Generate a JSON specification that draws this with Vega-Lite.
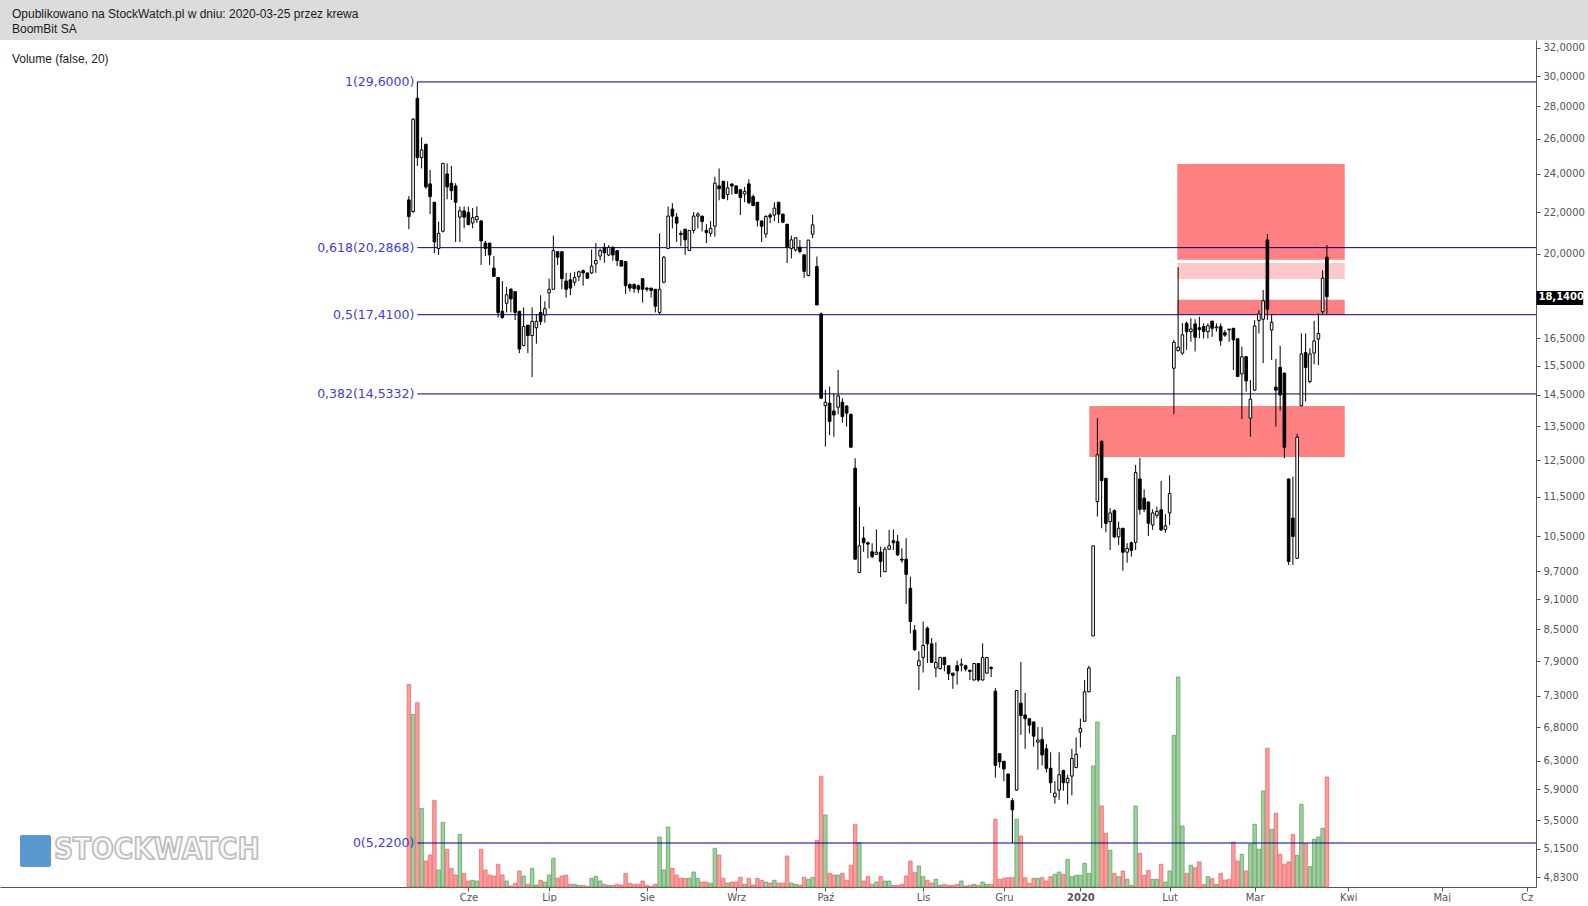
{
"$schema": "https://vega.github.io/schema/vega-lite/v6.json",
"padding": 0,
"background": "white",
"spacing": 0,
"config": {
  "locale": {"number": {"decimal": ",", "thousands": " ", "grouping": [3], "currency": ["", " zł"]}},
  "view": {"stroke": null},
  "font": "DejaVu Sans"
},
"vconcat": [
{
  "width": 1588, "height": 40,
  "view": {"fill": "#dcdcdc", "stroke": null},
  "data": {"values": [{"line": 1, "text": "Opublikowano na StockWatch.pl w dniu: 2020-03-25 przez krewa"}, {"line": 2, "text": "BoomBit SA"}]},
  "mark": {"type": "text", "align": "left", "baseline": "middle", "font": "Liberation Sans", "fontSize": 12, "color": "#1a1a1a"},
  "encoding": {
    "x": {"value": 12},
    "y": {"field": "line", "type": "ordinal", "axis": null, "scale": {"type": "point", "range": [14, 29], "padding": 0}},
    "text": {"field": "text"}
  }
},
{
  "width": 1536, "height": 847,
  "view": {"stroke": null},
  "data": {"values": [
{"i":0,"o":22.62,"h":22.82,"l":21.16,"c":21.78,"v":202.7},
{"i":1,"o":22.03,"h":27.25,"l":21.95,"c":27.19,"v":172.7},
{"i":2,"o":28.52,"h":29.6,"l":24.44,"c":24.91,"v":184.3},
{"i":3,"o":24.91,"h":26.09,"l":24.3,"c":25.35,"v":78.7},
{"i":4,"o":25.68,"h":25.7,"l":23.2,"c":23.3,"v":26},
{"i":5,"o":23.46,"h":24.22,"l":21.9,"c":22.79,"v":32},
{"i":6,"o":22.5,"h":22.5,"l":20.03,"c":20.55,"v":86.7},
{"i":7,"o":20.25,"h":21.53,"l":19.95,"c":20.96,"v":17},
{"i":8,"o":21.06,"h":24.6,"l":21.0,"c":24.59,"v":64.7},
{"i":9,"o":24.0,"h":24.59,"l":22.65,"c":23.3,"v":37.7},
{"i":10,"o":23.5,"h":24.44,"l":22.62,"c":23.1,"v":18.7},
{"i":11,"o":23.35,"h":23.5,"l":20.55,"c":22.5,"v":12},
{"i":12,"o":21.75,"h":22.28,"l":20.55,"c":22.06,"v":52.7},
{"i":13,"o":22.06,"h":22.28,"l":21.2,"c":21.75,"v":13.7},
{"i":14,"o":21.98,"h":22.28,"l":21.35,"c":21.38,"v":6},
{"i":15,"o":21.46,"h":22.2,"l":21.2,"c":21.72,"v":6.7},
{"i":16,"o":21.62,"h":22.28,"l":21.46,"c":21.78,"v":6},
{"i":17,"o":21.56,"h":21.6,"l":19.5,"c":20.6,"v":37.7},
{"i":18,"o":20.5,"h":20.6,"l":19.9,"c":20.25,"v":17},
{"i":19,"o":20.5,"h":20.5,"l":19.5,"c":19.95,"v":12},
{"i":20,"o":19.36,"h":19.9,"l":19.0,"c":19.0,"v":11},
{"i":21,"o":18.95,"h":18.95,"l":17.3,"c":17.5,"v":22.7},
{"i":22,"o":17.55,"h":18.8,"l":17.25,"c":17.3,"v":12},
{"i":23,"o":17.87,"h":18.55,"l":17.5,"c":18.22,"v":6},
{"i":24,"o":18.45,"h":18.5,"l":17.5,"c":18.05,"v":1},
{"i":25,"o":18.35,"h":18.35,"l":17.2,"c":17.5,"v":3.7},
{"i":26,"o":17.55,"h":17.55,"l":15.95,"c":16.1,"v":16},
{"i":27,"o":16.23,"h":17.7,"l":16.2,"c":16.95,"v":11},
{"i":28,"o":17.0,"h":17.0,"l":15.95,"c":16.6,"v":2.7},
{"i":29,"o":16.6,"h":17.7,"l":15.1,"c":17.15,"v":18.7},
{"i":30,"o":16.9,"h":17.4,"l":16.3,"c":17.15,"v":2},
{"i":31,"o":17.5,"h":18.2,"l":17.0,"c":17.15,"v":6.7},
{"i":32,"o":17.4,"h":17.95,"l":17.1,"c":17.65,"v":5},
{"i":33,"o":18.3,"h":18.9,"l":17.65,"c":18.45,"v":12},
{"i":34,"o":18.45,"h":20.85,"l":18.45,"c":20.15,"v":28.7},
{"i":35,"o":20.1,"h":20.1,"l":19.5,"c":19.85,"v":8.7},
{"i":36,"o":20.1,"h":20.1,"l":18.45,"c":18.9,"v":11},
{"i":37,"o":18.8,"h":19.15,"l":18.1,"c":18.45,"v":12},
{"i":38,"o":18.85,"h":19.15,"l":18.2,"c":18.5,"v":2.7},
{"i":39,"o":18.75,"h":19.2,"l":18.6,"c":18.95,"v":2.7},
{"i":40,"o":19.0,"h":19.25,"l":18.8,"c":19.2,"v":1.7},
{"i":41,"o":19.25,"h":19.3,"l":18.6,"c":19.15,"v":1.7},
{"i":42,"o":19.15,"h":19.15,"l":18.9,"c":18.92,"v":0.7},
{"i":43,"o":19.15,"h":20.2,"l":19.1,"c":19.45,"v":8.7},
{"i":44,"o":19.55,"h":20.5,"l":19.15,"c":19.7,"v":10.7},
{"i":45,"o":19.9,"h":20.25,"l":19.7,"c":20.15,"v":6},
{"i":46,"o":20.3,"h":20.5,"l":19.6,"c":20.05,"v":2.7},
{"i":47,"o":19.95,"h":20.4,"l":19.9,"c":20.3,"v":1.7},
{"i":48,"o":20.3,"h":20.35,"l":19.7,"c":19.95,"v":1.7},
{"i":49,"o":20.15,"h":20.15,"l":19.45,"c":19.7,"v":2.7},
{"i":50,"o":19.7,"h":19.7,"l":19.45,"c":19.45,"v":2},
{"i":51,"o":19.65,"h":19.65,"l":18.25,"c":18.6,"v":13.7},
{"i":52,"o":18.65,"h":18.7,"l":18.35,"c":18.5,"v":3.7},
{"i":53,"o":18.65,"h":18.7,"l":18.3,"c":18.48,"v":2.7},
{"i":54,"o":18.6,"h":18.65,"l":18.3,"c":18.45,"v":2.7},
{"i":55,"o":18.9,"h":18.9,"l":17.9,"c":18.45,"v":6},
{"i":56,"o":18.5,"h":18.55,"l":18.35,"c":18.45,"v":1.7},
{"i":57,"o":18.5,"h":18.5,"l":18.1,"c":18.4,"v":0.7},
{"i":58,"o":18.45,"h":18.45,"l":17.5,"c":17.75,"v":2.7},
{"i":59,"o":17.5,"h":20.96,"l":17.4,"c":18.45,"v":50},
{"i":60,"o":18.75,"h":19.9,"l":18.7,"c":19.85,"v":17},
{"i":61,"o":20.25,"h":22.28,"l":20.25,"c":21.8,"v":60},
{"i":62,"o":22.15,"h":22.45,"l":21.2,"c":21.8,"v":18.7},
{"i":63,"o":21.75,"h":21.95,"l":20.55,"c":21.45,"v":12},
{"i":64,"o":20.96,"h":21.1,"l":20.35,"c":20.9,"v":8.7},
{"i":65,"o":21.16,"h":21.16,"l":19.95,"c":20.65,"v":8.7},
{"i":66,"o":20.15,"h":21.1,"l":20.15,"c":21.1,"v":8.7},
{"i":67,"o":21.1,"h":22.0,"l":20.96,"c":21.8,"v":15},
{"i":68,"o":21.8,"h":22.0,"l":21.2,"c":21.9,"v":8.7},
{"i":69,"o":21.8,"h":21.8,"l":21.05,"c":21.53,"v":5},
{"i":70,"o":21.1,"h":21.4,"l":20.5,"c":21.0,"v":5},
{"i":71,"o":20.96,"h":21.55,"l":20.8,"c":21.2,"v":3.7},
{"i":72,"o":21.3,"h":23.85,"l":20.8,"c":23.5,"v":38.7},
{"i":73,"o":23.35,"h":24.3,"l":22.6,"c":23.2,"v":32},
{"i":74,"o":23.6,"h":23.6,"l":22.65,"c":22.7,"v":8.7},
{"i":75,"o":22.9,"h":23.6,"l":22.6,"c":23.25,"v":4},
{"i":76,"o":23.45,"h":23.5,"l":22.9,"c":23.35,"v":5},
{"i":77,"o":23.35,"h":23.4,"l":22.96,"c":22.96,"v":5},
{"i":78,"o":23.15,"h":23.15,"l":21.85,"c":22.75,"v":9.7},
{"i":79,"o":22.93,"h":23.3,"l":22.5,"c":23.06,"v":2.7},
{"i":80,"o":23.46,"h":23.7,"l":22.4,"c":22.48,"v":8.7},
{"i":81,"o":22.79,"h":22.9,"l":22.3,"c":22.33,"v":2},
{"i":82,"o":22.5,"h":22.5,"l":21.29,"c":21.6,"v":8.7},
{"i":83,"o":21.56,"h":21.56,"l":20.55,"c":21.3,"v":6.7},
{"i":84,"o":20.93,"h":21.85,"l":20.75,"c":21.78,"v":5},
{"i":85,"o":21.85,"h":21.95,"l":21.45,"c":21.75,"v":4},
{"i":86,"o":21.85,"h":22.5,"l":21.55,"c":22.2,"v":6.7},
{"i":87,"o":22.5,"h":22.5,"l":21.45,"c":21.9,"v":4},
{"i":88,"o":21.9,"h":21.9,"l":21.45,"c":21.5,"v":4},
{"i":89,"o":21.4,"h":21.4,"l":19.58,"c":20.3,"v":31},
{"i":90,"o":20.25,"h":20.85,"l":19.8,"c":20.65,"v":4},
{"i":91,"o":20.18,"h":20.75,"l":20.1,"c":20.75,"v":2.7},
{"i":92,"o":20.31,"h":20.64,"l":20.03,"c":20.11,"v":2},
{"i":93,"o":19.96,"h":19.96,"l":18.93,"c":19.22,"v":9.7},
{"i":94,"o":19.04,"h":20.64,"l":19.0,"c":20.64,"v":7.7},
{"i":95,"o":20.92,"h":21.86,"l":20.73,"c":21.37,"v":9.7},
{"i":96,"o":19.43,"h":19.88,"l":17.8,"c":17.8,"v":46.7},
{"i":97,"o":17.44,"h":17.5,"l":14.39,"c":14.39,"v":110.7},
{"i":98,"o":14.15,"h":14.67,"l":12.89,"c":14.26,"v":72},
{"i":99,"o":14.23,"h":14.78,"l":13.23,"c":13.65,"v":13.7},
{"i":100,"o":13.98,"h":14.56,"l":13.18,"c":13.85,"v":12},
{"i":101,"o":14.1,"h":15.35,"l":13.87,"c":14.47,"v":12},
{"i":102,"o":14.26,"h":14.39,"l":13.61,"c":13.8,"v":13.7},
{"i":103,"o":14.14,"h":14.15,"l":13.49,"c":13.91,"v":6.7},
{"i":104,"o":13.87,"h":13.9,"l":12.87,"c":12.87,"v":21.7},
{"i":105,"o":12.27,"h":12.55,"l":9.97,"c":9.97,"v":62.7},
{"i":106,"o":9.67,"h":11.24,"l":9.66,"c":10.28,"v":44.3},
{"i":107,"o":10.46,"h":10.74,"l":10.14,"c":10.35,"v":6},
{"i":108,"o":10.35,"h":10.38,"l":9.99,"c":10.32,"v":10.3},
{"i":109,"o":10.14,"h":10.34,"l":9.99,"c":10.03,"v":2.7},
{"i":110,"o":10.08,"h":10.67,"l":10.07,"c":10.13,"v":5},
{"i":111,"o":10.13,"h":10.26,"l":9.57,"c":9.92,"v":10.3},
{"i":112,"o":9.69,"h":10.26,"l":9.68,"c":10.2,"v":6},
{"i":113,"o":10.2,"h":10.66,"l":10.18,"c":10.28,"v":6},
{"i":114,"o":10.4,"h":10.67,"l":10.18,"c":10.35,"v":1.7},
{"i":115,"o":10.38,"h":10.54,"l":10.04,"c":10.07,"v":1.7},
{"i":116,"o":9.97,"h":10.22,"l":9.89,"c":9.95,"v":2.7},
{"i":117,"o":9.97,"h":10.46,"l":9.0,"c":9.63,"v":11},
{"i":118,"o":9.33,"h":9.58,"l":8.42,"c":8.65,"v":26},
{"i":119,"o":8.48,"h":8.58,"l":8.09,"c":8.11,"v":14.3},
{"i":120,"o":7.82,"h":8.08,"l":7.4,"c":7.91,"v":21},
{"i":121,"o":7.97,"h":8.65,"l":7.7,"c":8.19,"v":10.3},
{"i":122,"o":8.52,"h":8.55,"l":7.87,"c":8.22,"v":6.7},
{"i":123,"o":8.22,"h":8.33,"l":7.87,"c":7.88,"v":4},
{"i":124,"o":7.78,"h":8.25,"l":7.62,"c":7.88,"v":7.7},
{"i":125,"o":7.77,"h":7.98,"l":7.75,"c":7.97,"v":1.7},
{"i":126,"o":7.97,"h":7.98,"l":7.72,"c":7.84,"v":2.7},
{"i":127,"o":7.82,"h":7.83,"l":7.57,"c":7.68,"v":1.7},
{"i":128,"o":7.69,"h":7.69,"l":7.42,"c":7.65,"v":1.7},
{"i":129,"o":7.82,"h":7.91,"l":7.49,"c":7.73,"v":2.7},
{"i":130,"o":7.83,"h":7.95,"l":7.72,"c":7.85,"v":6},
{"i":131,"o":7.82,"h":7.84,"l":7.72,"c":7.76,"v":1},
{"i":132,"o":7.74,"h":7.75,"l":7.57,"c":7.72,"v":1.7},
{"i":133,"o":7.57,"h":7.87,"l":7.56,"c":7.86,"v":2.7},
{"i":134,"o":7.86,"h":7.87,"l":7.54,"c":7.57,"v":1.7},
{"i":135,"o":7.57,"h":8.23,"l":7.56,"c":7.97,"v":5},
{"i":136,"o":7.69,"h":7.98,"l":7.68,"c":7.97,"v":2.7},
{"i":137,"o":7.79,"h":7.81,"l":7.62,"c":7.77,"v":2.7},
{"i":138,"o":7.38,"h":7.43,"l":6.06,"c":6.23,"v":67.7},
{"i":139,"o":6.4,"h":6.4,"l":6.2,"c":6.28,"v":7.7},
{"i":140,"o":6.29,"h":6.29,"l":6.01,"c":6.18,"v":8.7},
{"i":141,"o":6.11,"h":6.11,"l":5.79,"c":5.79,"v":9.3},
{"i":142,"o":5.75,"h":5.78,"l":5.22,"c":5.63,"v":9.3},
{"i":143,"o":5.89,"h":7.4,"l":5.88,"c":7.39,"v":67.7},
{"i":144,"o":7.18,"h":7.89,"l":6.68,"c":6.98,"v":51},
{"i":145,"o":6.99,"h":7.35,"l":6.47,"c":6.93,"v":9.3},
{"i":146,"o":6.93,"h":6.93,"l":6.7,"c":6.83,"v":3.7},
{"i":147,"o":6.88,"h":6.88,"l":6.5,"c":6.66,"v":8.7},
{"i":148,"o":6.57,"h":6.8,"l":6.17,"c":6.6,"v":8.7},
{"i":149,"o":6.61,"h":6.8,"l":6.23,"c":6.38,"v":9.3},
{"i":150,"o":6.47,"h":6.54,"l":6.13,"c":6.19,"v":6},
{"i":151,"o":6.19,"h":6.42,"l":5.85,"c":5.99,"v":10.3},
{"i":152,"o":5.8,"h":6.01,"l":5.71,"c":5.85,"v":12.7},
{"i":153,"o":5.89,"h":6.42,"l":5.76,"c":6.1,"v":15},
{"i":154,"o":6.16,"h":6.17,"l":5.88,"c":5.99,"v":12.7},
{"i":155,"o":5.99,"h":6.1,"l":5.7,"c":6.05,"v":27.7},
{"i":156,"o":6.08,"h":6.47,"l":5.82,"c":6.33,"v":10.3},
{"i":157,"o":6.2,"h":6.64,"l":6.19,"c":6.39,"v":11.7},
{"i":158,"o":6.72,"h":6.93,"l":6.49,"c":6.78,"v":11.7},
{"i":159,"o":6.89,"h":7.57,"l":6.88,"c":7.37,"v":23.7},
{"i":160,"o":7.37,"h":7.82,"l":7.36,"c":7.78,"v":13.7},
{"i":161,"o":8.37,"h":10.28,"l":8.37,"c":10.28,"v":121},
{"i":162,"o":11.37,"h":13.75,"l":10.99,"c":12.65,"v":165},
{"i":163,"o":13.04,"h":13.08,"l":10.7,"c":11.93,"v":81},
{"i":164,"o":11.99,"h":11.99,"l":10.6,"c":10.82,"v":53.7},
{"i":165,"o":10.86,"h":11.2,"l":10.18,"c":11.08,"v":36.7},
{"i":166,"o":11.14,"h":11.17,"l":10.46,"c":10.49,"v":13.7},
{"i":167,"o":10.49,"h":10.86,"l":10.3,"c":10.7,"v":10.3},
{"i":168,"o":10.7,"h":10.7,"l":9.71,"c":10.13,"v":16},
{"i":169,"o":10.13,"h":10.34,"l":9.89,"c":10.22,"v":7.7},
{"i":170,"o":10.35,"h":10.38,"l":10.03,"c":10.17,"v":1.7},
{"i":171,"o":10.36,"h":12.36,"l":10.18,"c":12.15,"v":81},
{"i":172,"o":11.97,"h":12.56,"l":11.04,"c":11.17,"v":33.7},
{"i":173,"o":11.46,"h":11.69,"l":11.1,"c":11.17,"v":11.7},
{"i":174,"o":11.36,"h":11.37,"l":10.51,"c":10.82,"v":16.7},
{"i":175,"o":10.78,"h":11.17,"l":10.66,"c":11.08,"v":7.7},
{"i":176,"o":11.02,"h":11.24,"l":10.95,"c":11.12,"v":7.7},
{"i":177,"o":11.16,"h":11.92,"l":10.63,"c":10.66,"v":22.7},
{"i":178,"o":10.67,"h":11.05,"l":10.59,"c":10.76,"v":5},
{"i":179,"o":11.08,"h":12.07,"l":10.78,"c":11.58,"v":16},
{"i":180,"o":15.41,"h":16.44,"l":13.88,"c":16.35,"v":151.7},
{"i":181,"o":16.04,"h":19.4,"l":16.01,"c":16.17,"v":210},
{"i":182,"o":15.95,"h":17.08,"l":15.89,"c":16.63,"v":61},
{"i":183,"o":17.07,"h":17.14,"l":16.07,"c":16.75,"v":13.7},
{"i":184,"o":16.75,"h":17.27,"l":16.37,"c":16.85,"v":21.7},
{"i":185,"o":17.05,"h":17.23,"l":16.01,"c":16.54,"v":19.3},
{"i":186,"o":16.9,"h":17.33,"l":16.5,"c":16.83,"v":25},
{"i":187,"o":16.95,"h":17.07,"l":16.49,"c":16.75,"v":2.7},
{"i":188,"o":16.75,"h":17.07,"l":16.49,"c":16.98,"v":10.3},
{"i":189,"o":17.16,"h":17.16,"l":16.55,"c":16.88,"v":8.3},
{"i":190,"o":16.9,"h":17.07,"l":16.75,"c":16.93,"v":2.7},
{"i":191,"o":16.95,"h":17.07,"l":16.22,"c":16.41,"v":13.7},
{"i":192,"o":16.71,"h":16.81,"l":16.55,"c":16.62,"v":7},
{"i":193,"o":16.85,"h":16.85,"l":16.37,"c":16.82,"v":7.7},
{"i":194,"o":16.88,"h":16.88,"l":15.35,"c":16.44,"v":45},
{"i":195,"o":16.48,"h":16.48,"l":15.1,"c":15.12,"v":26},
{"i":196,"o":15.21,"h":16.19,"l":13.72,"c":15.82,"v":32.7},
{"i":197,"o":15.82,"h":15.82,"l":14.61,"c":14.97,"v":16},
{"i":198,"o":13.75,"h":15.0,"l":13.18,"c":14.36,"v":42.7},
{"i":199,"o":14.66,"h":17.2,"l":14.64,"c":16.97,"v":62.7},
{"i":200,"o":17.18,"h":17.6,"l":16.68,"c":17.44,"v":37.7},
{"i":201,"o":17.23,"h":18.42,"l":15.59,"c":17.97,"v":96},
{"i":202,"o":20.65,"h":20.93,"l":17.2,"c":17.63,"v":138.7},
{"i":203,"o":16.81,"h":17.44,"l":15.7,"c":17.11,"v":57.7},
{"i":204,"o":14.76,"h":15.74,"l":13.49,"c":14.66,"v":73.7},
{"i":205,"o":15.44,"h":16.22,"l":13.99,"c":14.5,"v":32.7},
{"i":206,"o":15.24,"h":15.26,"l":12.55,"c":12.87,"v":22.7},
{"i":207,"o":11.97,"h":11.99,"l":9.84,"c":9.92,"v":25},
{"i":208,"o":10.95,"h":12.04,"l":9.84,"c":10.5,"v":52.7},
{"i":209,"o":9.99,"h":13.27,"l":9.99,"c":13.17,"v":31.7},
{"i":210,"o":14.15,"h":16.68,"l":14.13,"c":15.92,"v":82.7},
{"i":211,"o":15.97,"h":16.68,"l":14.28,"c":15.44,"v":43.3},
{"i":212,"o":14.95,"h":16.13,"l":14.89,"c":15.92,"v":20.3},
{"i":213,"o":15.95,"h":17.17,"l":15.55,"c":16.4,"v":47.7},
{"i":214,"o":16.47,"h":17.47,"l":15.52,"c":16.68,"v":50},
{"i":215,"o":17.53,"h":19.26,"l":17.43,"c":18.92,"v":58.7},
{"i":216,"o":19.85,"h":20.41,"l":17.44,"c":18.14,"v":110}
  ]},
  "layer": [
    {
      "mark": {"type": "bar", "width": 3.5, "strokeWidth": 0.75},
      "encoding": {
        "x": {"field": "i", "type": "quantitative", "title": null,
              "scale": {"domain": [-96.2, 265.2], "nice": false, "zero": false, "padding": 0},
              "axis": {"values": [14, 33, 56, 77, 98, 121, 140, 158, 179, 199, 221, 243, 263],
                       "labelExpr": "datum.value == 14 ? 'Cze' : datum.value == 33 ? 'Lip' : datum.value == 56 ? 'Sie' : datum.value == 77 ? 'Wrz' : datum.value == 98 ? 'Paź' : datum.value == 121 ? 'Lis' : datum.value == 140 ? 'Gru' : datum.value == 158 ? '2020' : datum.value == 179 ? 'Lut' : datum.value == 199 ? 'Mar' : datum.value == 221 ? 'Kwi' : datum.value == 243 ? 'Maj' : 'Cz'",
                       "grid": false, "domainColor": "#555555", "tickColor": "#555555", "tickSize": 4,
                       "labelColor": "#555555", "labelFont": "DejaVu Sans", "labelFontSize": 10, "labelPadding": 1,
                       "labelFlush": false, "labelOverlap": false,
                       "labelFontWeight": {"condition": {"test": "datum.value == 158", "value": "bold"}, "value": "normal"}}},
        "y": {"field": "v", "type": "quantitative", "scale": {"domain": [0, 847], "nice": false}, "axis": null},
        "fill": {"condition": {"test": "datum.c >= datum.o", "value": "#9fd19f"}, "value": "#ff9b9b"},
        "stroke": {"condition": {"test": "datum.c >= datum.o", "value": "#5e9c5e"}, "value": "#e26a6a"}
      }
    },
    {
      "layer": [
        {
          "data": {"values": [
            {"x1": 180.8, "x2": 220.2, "lo": 19.73, "hi": 24.55, "tone": "strong"},
            {"x1": 180.8, "x2": 220.2, "lo": 18.89, "hi": 19.59, "tone": "weak"},
            {"x1": 180.8, "x2": 220.2, "lo": 17.41, "hi": 18.01, "tone": "strong"},
            {"x1": 160.1, "x2": 220.2, "lo": 12.59, "hi": 14.14, "tone": "strong"}
          ]},
          "mark": {"type": "rect"},
          "encoding": {
            "x": {"field": "x1", "type": "quantitative", "title": null, "scale": {"domain": [-96.2, 265.2], "nice": false, "zero": false, "padding": 0}},
            "x2": {"field": "x2"},
            "y": {"field": "lo", "type": "quantitative", "title": null,
                  "scale": {"type": "log", "domain": [4.722, 32.57], "nice": false, "zero": false, "padding": 0},
                  "axis": {"orient": "right", "values": [4.83, 5.15, 5.5, 5.9, 6.3, 6.8, 7.3, 7.9, 8.5, 9.1, 9.7, 10.5, 11.5, 12.5, 13.5, 14.5, 15.5, 16.5, 20, 22, 24, 26, 28, 30, 32],
                           "format": ".4f", "grid": false, "domainColor": "#555555", "tickColor": "#555555", "tickSize": 4,
                           "labelColor": "#555555", "labelFont": "DejaVu Sans", "labelFontSize": 10, "labelPadding": 3, "labelOverlap": false, "labelFlush": false}},
            "y2": {"field": "hi"},
            "color": {"field": "tone", "type": "nominal", "scale": {"domain": ["strong", "weak"], "range": ["#ff8080", "#ffc8c8"]}, "legend": null}
          }
        },
        {
          "data": {"values": [
            {"p": 29.6, "t": "1(29,6000)"},
            {"p": 20.2868, "t": "0,618(20,2868)"},
            {"p": 17.41, "t": "0,5(17,4100)"},
            {"p": 14.5332, "t": "0,382(14,5332)"},
            {"p": 5.22, "t": "0(5,2200)"}
          ]},
          "layer": [
            {
              "mark": {"type": "rule", "color": "#000080", "strokeWidth": 1},
              "encoding": {
                "x": {"datum": 2, "type": "quantitative"},
                "x2": {"datum": 265.2},
                "y": {"field": "p", "type": "quantitative", "title": null}
              }
            },
            {
              "mark": {"type": "text", "align": "right", "baseline": "middle", "dx": -3, "font": "DejaVu Sans", "fontSize": 12.5, "color": "#4040d8"},
              "encoding": {
                "x": {"datum": 2, "type": "quantitative"},
                "y": {"field": "p", "type": "quantitative", "title": null},
                "text": {"field": "t"}
              }
            }
          ]
        },
        {
          "mark": {"type": "rule", "color": "black", "strokeWidth": 1},
          "encoding": {
            "x": {"field": "i", "type": "quantitative", "title": null},
            "y": {"field": "l", "type": "quantitative", "title": null},
            "y2": {"field": "h"}
          }
        },
        {
          "mark": {"type": "bar", "width": 2.6, "stroke": "black", "strokeWidth": 1},
          "encoding": {
            "x": {"field": "i", "type": "quantitative", "title": null},
            "y": {"field": "o", "type": "quantitative", "title": null},
            "y2": {"field": "c"},
            "fill": {"condition": {"test": "datum.c >= datum.o", "value": "white"}, "value": "black"}
          }
        },
        {
          "data": {"values": [{"p": 18.14, "t": "18,1400"}]},
          "layer": [
            {
              "mark": {"type": "rect", "color": "black"},
              "encoding": {
                "x": {"datum": 265.3, "type": "quantitative"},
                "x2": {"datum": 276.3},
                "y": {"datum": 17.8, "type": "quantitative"},
                "y2": {"datum": 18.38}
              }
            },
            {
              "mark": {"type": "text", "align": "left", "baseline": "middle", "dx": 2, "font": "DejaVu Sans", "fontSize": 10, "fontWeight": "bold", "color": "white"},
              "encoding": {
                "x": {"datum": 265.3, "type": "quantitative"},
                "y": {"field": "p", "type": "quantitative", "title": null},
                "text": {"field": "t"}
              }
            }
          ]
        },
        {
          "data": {"values": [{"t": "Volume (false, 20)"}]},
          "mark": {"type": "text", "align": "left", "baseline": "middle", "font": "Liberation Sans", "fontSize": 12, "color": "#1a1a1a"},
          "encoding": {
            "x": {"datum": -93.4, "type": "quantitative"},
            "y": {"datum": 31.21, "type": "quantitative"},
            "text": {"field": "t"}
          }
        },
        {
          "data": {"values": [{"t": "STOCKWATCH"}]},
          "layer": [
            {
              "mark": {"type": "rect", "color": "#5b98cf", "cornerRadius": 2},
              "encoding": {
                "x": {"datum": -91.5, "type": "quantitative"},
                "x2": {"datum": -84.2},
                "y": {"datum": 4.943, "type": "quantitative"},
                "y2": {"datum": 5.316}
              }
            },
            {
              "mark": {"type": "text", "align": "left", "baseline": "middle", "font": "DejaVu Sans Condensed, Liberation Sans, sans-serif", "fontSize": 29.5, "fontWeight": "bold", "fill": "#f8f8f8", "stroke": "#bbbbbb", "strokeWidth": 1.6},
              "encoding": {
                "x": {"datum": -83.5, "type": "quantitative"},
                "y": {"datum": 5.14, "type": "quantitative"},
                "text": {"field": "t"}
              }
            }
          ]
        }
      ]
    }
  ],
  "resolve": {"scale": {"y": "independent"}}
}
]
}
